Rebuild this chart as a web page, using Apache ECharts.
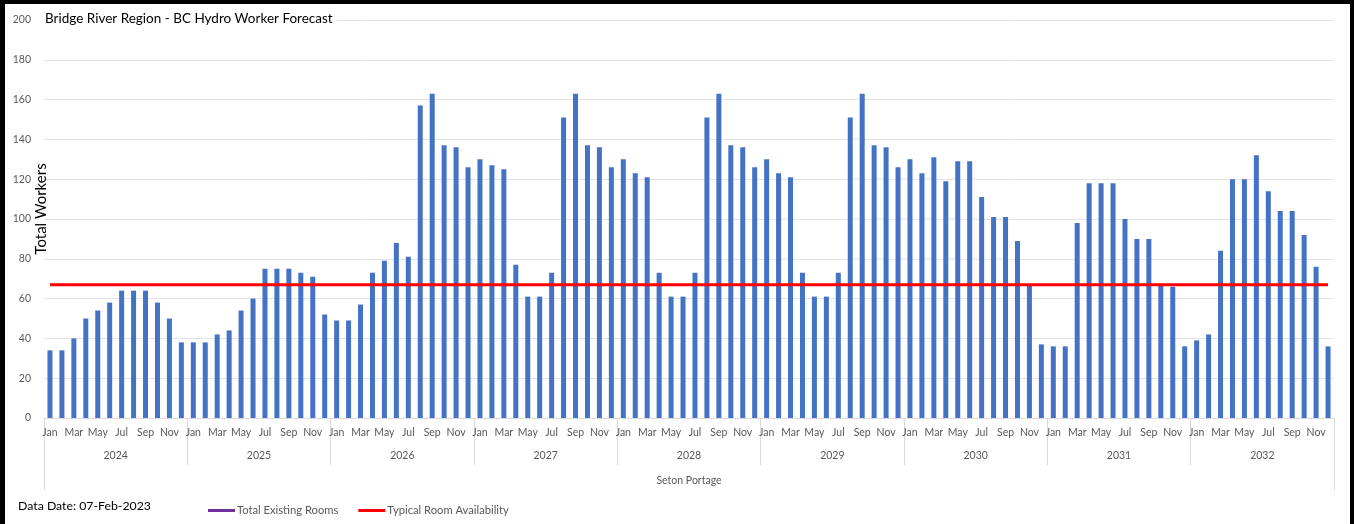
<!DOCTYPE html>
<html>
<head>
<meta charset="utf-8">
<script src="https://cdn.jsdelivr.net/npm/echarts@6/dist/echarts.min.js"></script>
<style>
html,body{margin:0;padding:0;background:#fff;}
#frame{position:absolute;left:0;top:0;width:1354px;height:524px;box-sizing:border-box;border-top:4px solid #000;border-left:5px solid #000;border-right:4px solid #000;pointer-events:none;}
#chart{position:absolute;left:0;top:0;width:1354px;height:524px;}
</style>
</head>
<body>
<div id="chart"></div>
<div id="frame"></div>
<script>
const months = ['Jan','Feb','Mar','Apr','May','Jun','Jul','Aug','Sep','Oct','Nov','Dec'];
const years = ['2024','2025','2026','2027','2028','2029','2030','2031','2032'];
const region = ['Seton Portage'];
const yTicks = [0,20,40,60,80,100,120,140,160,180,200];

const workers2024 = [34,34,40,50,54,58,64,64,64,58,50,38];
const workers2025 = [38,38,42,44,54,60,75,75,75,73,71,52];
const workers2026 = [49,49,57,73,79,88,81,157,163,137,136,126];
const workers2027 = [130,127,125,77,61,61,73,151,163,137,136,126];
const workers2028 = [130,123,121,73,61,61,73,151,163,137,136,126];
const workers2029 = [130,123,121,73,61,61,73,151,163,137,136,126];
const workers2030 = [130,123,131,119,129,129,111,101,101,89,67,37];
const workers2031 = [36,36,98,118,118,118,100,90,90,67,66,36];
const workers2032 = [39,42,84,120,120,132,114,104,104,92,76,36];

const typicalRoomAvailability = 67;
const totalExistingRooms = [];

const workers = [].concat(workers2024,workers2025,workers2026,workers2027,workers2028,workers2029,workers2030,workers2031,workers2032);
const monthCats = [];
years.forEach(y => months.forEach(m => monthCats.push(m)));
const availLine = monthCats.map(() => typicalRoomAvailability);

const FONT = 'Lato';
const chart = echarts.init(document.getElementById('chart'));
chart.setOption({
  animation: false,
  textStyle: {fontFamily: FONT},
  title: {
    text: 'Bridge River Region - BC Hydro Worker Forecast',
    left: 42, top: 12,
    backgroundColor: '#fff',
    padding: [0, 4, 0, 3],
    textStyle: {fontFamily: FONT, fontSize: 13.5, fontWeight: 'normal', color: '#000'}
  },
  graphic: [{
    type: 'text', left: 18, top: 500,
    style: {text: 'Data Date: 07-Feb-2023', fontFamily: FONT, fontSize: 12.3, fill: '#000'}
  }],
  legend: {
    left: 203, top: 500,
    itemWidth: 27, itemHeight: 3, itemGap: 20,
    icon: 'rect',
    textStyle: {fontFamily: FONT, fontSize: 11.2, color: '#595959', padding: [0,0,0,-3]},
    data: ['Total Existing Rooms', 'Typical Room Availability']
  },
  grid: {left: 44, right: 20, top: 20, bottom: 106, containLabel: false, outerBoundsMode: 'none'},
  xAxis: [
    {
      type: 'category', data: monthCats, position: 'bottom',
      axisLine: {show: true, lineStyle: {color: '#d9d9d9'}},
      axisTick: {show: false},
      axisLabel: {interval: 1, margin: 9, fontFamily: FONT, fontSize: 10.5, color: '#595959'},
      splitLine: {show: false}
    },
    {
      type: 'category', data: years, position: 'bottom', gridIndex: 0,
      axisLine: {show: false},
      axisTick: {show: true, length: 47, lineStyle: {color: '#d9d9d9'}},
      axisLabel: {margin: 32, fontFamily: FONT, fontSize: 10.5, color: '#595959'},
      splitLine: {show: false}
    },
    {
      type: 'category', data: region, position: 'bottom', gridIndex: 0,
      axisLine: {show: false},
      axisTick: {show: true, length: 72, lineStyle: {color: '#d9d9d9'}},
      axisLabel: {margin: 57, fontFamily: FONT, fontSize: 10.5, color: '#595959'},
      splitLine: {show: false}
    }
  ],
  yAxis: {
    type: 'value', min: 0, max: 200, interval: 20,
    name: 'Total Workers', nameLocation: 'middle', nameGap: -5, nameRotate: 90,
    nameMoveOverlap: false,
    nameTextStyle: {fontFamily: FONT, fontSize: 15, color: '#000', padding: [0,0,0,20]},
    axisLine: {show: false}, axisTick: {show: false},
    axisLabel: {margin: 13, fontFamily: FONT, fontSize: 10.5, color: '#595959',
      formatter: v => yTicks.indexOf(v) >= 0 ? String(v) : ''},
    splitLine: {lineStyle: {color: '#e3e3e3', width: 1}}
  },
  series: [
    {
      name: 'Workers', type: 'bar', xAxisIndex: 0, data: workers,
      barWidth: 5, itemStyle: {color: '#4472C4'}
    },
    {
      name: 'Total Existing Rooms', type: 'line', xAxisIndex: 0, data: totalExistingRooms,
      symbol: 'none', itemStyle: {color: '#7030A0'}, lineStyle: {color: '#7030A0', width: 3}
    },
    {
      name: 'Typical Room Availability', type: 'line', xAxisIndex: 0, data: availLine,
      symbol: 'none', itemStyle: {color: '#FF0000'}, lineStyle: {color: '#FF0000', width: 3}, z: 5
    }
  ]
});
</script>
</body>
</html>
